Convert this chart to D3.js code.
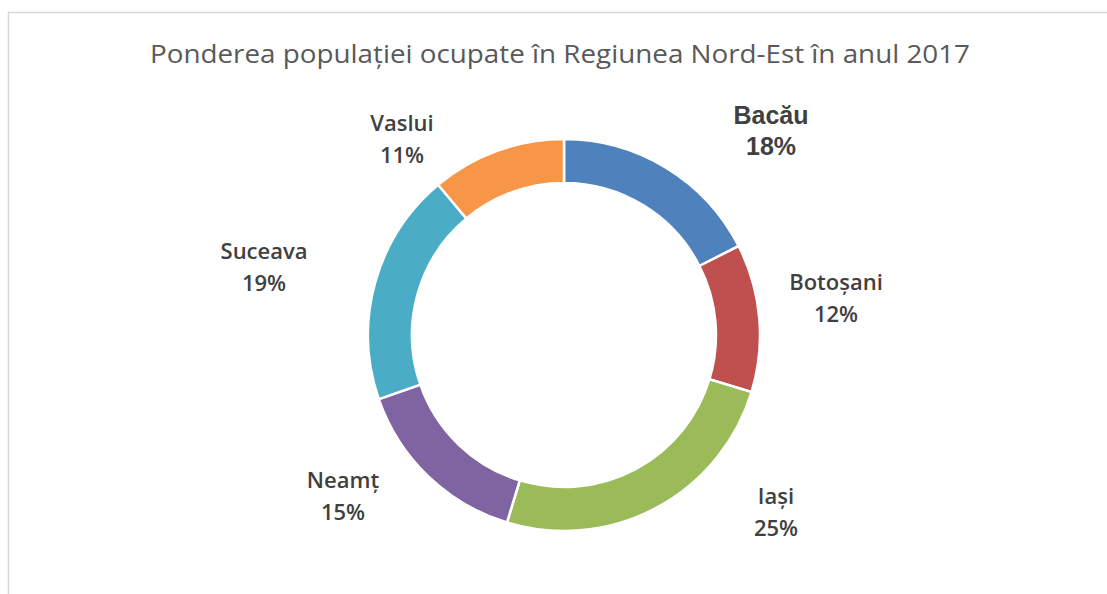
<!DOCTYPE html>
<html>
<head>
<meta charset="utf-8">
<script src="https://cdn.jsdelivr.net/npm/d3@7"></script>
<style>
  body { margin: 0; background: #fff; }
  text { font-family: "Open Sans", Lato, sans-serif; }
</style>
</head>
<body>
<div id="chart"></div>
<script>
// data
var judete = ["Bacău", "Botoșani", "Iași", "Neamț", "Suceava", "Vaslui"];
var ponderi = [17.5, 12.2, 25.0, 15.0, 19.2, 11.1];
var etichete = ["18%", "12%", "25%", "15%", "19%", "11%"];
var culori = ["#4F81BD", "#C0504D", "#9BBB59", "#8064A2", "#4BACC6", "#F79646"];

var svgWidth = 1107;
var svgHeight = 594;

var cx = 564, cy = 335;
var outerR = 196, innerR = 152;

// where Excel put each label (first baseline), relative to the donut centre
var labelPos = [
  [207, -211], [272, -45], [212, 169], [-221, 153], [-300, -76], [-162, -204]
];

var svg = d3.select("#chart")
  .append("svg")
  .attr("width", svgWidth)
  .attr("height", svgHeight);

// chart frame
svg.append("rect")
  .attr("x", 8.5)
  .attr("y", 12.5)
  .attr("width", 1200)
  .attr("height", 700)
  .attr("fill", "none")
  .attr("stroke", "#D9D9D9")
  .attr("stroke-width", 1.5);

// title (the original is a bit stretched sideways)
svg.append("text")
  .attr("x", 560)
  .attr("y", 63)
  .attr("text-anchor", "middle")
  .attr("textLength", 820)
  .attr("lengthAdjust", "spacingAndGlyphs")
  .style("font-size", "26px")
  .style("fill", "#595959")
  .text("Ponderea populației ocupate în Regiunea Nord-Est în anul 2017");

var data = judete.map(function(d, i) {
  return { name: d, value: ponderi[i], label: etichete[i], color: culori[i] };
});

var pie = d3.pie()
  .sort(null)
  .value(d => d.value);

var arc = d3.arc()
  .innerRadius(innerR)
  .outerRadius(outerR);

var g = svg.append("g")
  .attr("transform", `translate(${cx}, ${cy})`);

g.selectAll("path")
  .data(pie(data))
  .enter()
  .append("path")
  .attr("d", arc)
  .attr("fill", d => d.data.color)
  .attr("stroke", "#fff")
  .attr("stroke-width", 2.5);

// labels
var labels = g.selectAll(".lbl")
  .data(data)
  .enter()
  .append("text")
  .attr("class", "lbl")
  .attr("text-anchor", "middle")
  .style("font-weight", (d, i) => i == 0 ? "bold" : "600")
  .style("font-size", (d, i) => i == 0 ? "25px" : "22px")
  .style("font-family", (d, i) => i == 0 ? "Arial, 'Liberation Sans', sans-serif" : null)
  .style("fill", "#404040")
  .attr("transform", (d, i) => `translate(${labelPos[i][0]}, ${labelPos[i][1]})`);

labels.append("tspan")
  .attr("x", 0)
  .attr("y", 0)
  .text(d => d.name);

labels.append("tspan")
  .attr("x", 0)
  .attr("y", (d, i) => i == 0 ? 31 : 32)
  .text(d => d.label);
</script>
</body>
</html>
